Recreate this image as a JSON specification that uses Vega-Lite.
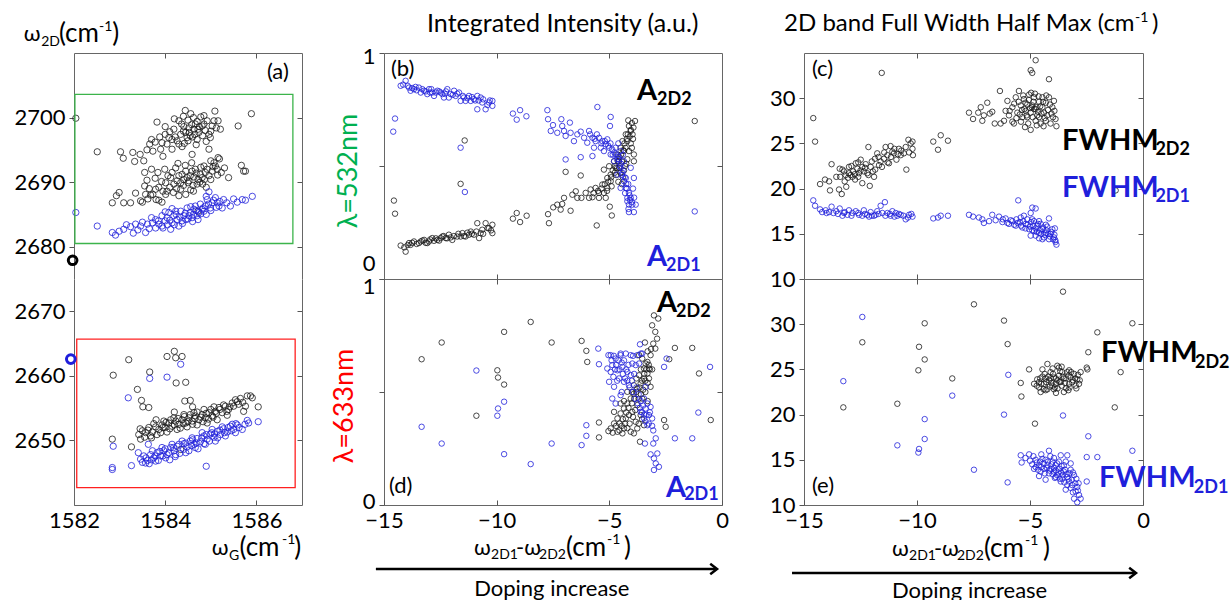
{
"$schema":"https://vega.github.io/schema/vega-lite/v6.json",
"background":"white",
"padding":{"left":13,"top":10,"right":0,"bottom":0},
"config":{"font":"Lato","view":{"stroke":"#666","strokeWidth":1},
"axis":{"grid":false,"title":null,"labelFont":"Lato","labelFontSize":22,"labelColor":"#000","tickColor":"#555","domainColor":"#666","tickSize":5,"labelPadding":4,"domain":false,"labelFlush":false}},
"columns":3,"spacing":{"row":0,"column":82},"bounds":"flush","align":"each",
"concat":[
{"width":228,"height":226,"view":{"stroke":null},
"resolve":{"axis":{"x":"independent","y":"independent"}},
"layer":[
{"data":{"values":[{"x":1582.04,"y":2699.9},{"x":1582.51,"y":2694.7},{"x":1583.02,"y":2694.7},{"x":1583.08,"y":2693.7},{"x":1583.29,"y":2694.6},{"x":1583.33,"y":2693.2},{"x":1583.53,"y":2693.3},{"x":1583.66,"y":2695.9},{"x":1583.73,"y":2694.8},{"x":1583.82,"y":2699.3},{"x":1583.9,"y":2695.1},{"x":1583.95,"y":2694.0},{"x":1584.0,"y":2697.4},{"x":1584.08,"y":2696.9},{"x":1584.15,"y":2695.1},{"x":1584.19,"y":2698.2},{"x":1584.26,"y":2696.4},{"x":1584.36,"y":2699.0},{"x":1584.37,"y":2695.5},{"x":1584.45,"y":2697.7},{"x":1584.52,"y":2698.4},{"x":1584.55,"y":2697.2},{"x":1584.59,"y":2694.3},{"x":1584.63,"y":2698.2},{"x":1584.66,"y":2699.0},{"x":1584.7,"y":2696.6},{"x":1584.74,"y":2697.7},{"x":1584.81,"y":2698.7},{"x":1584.85,"y":2700.3},{"x":1584.92,"y":2699.5},{"x":1584.96,"y":2697.4},{"x":1584.99,"y":2696.9},{"x":1585.09,"y":2701.0},{"x":1585.07,"y":2699.5},{"x":1585.16,"y":2699.5},{"x":1585.21,"y":2698.2},{"x":1584.96,"y":2695.1},{"x":1585.16,"y":2693.8},{"x":1585.6,"y":2698.7},{"x":1585.89,"y":2700.6},{"x":1584.41,"y":2698.6},{"x":1584.53,"y":2697.7},{"x":1584.65,"y":2697.4},{"x":1584.75,"y":2698.6},{"x":1584.48,"y":2696.9},{"x":1584.34,"y":2697.4},{"x":1584.15,"y":2696.6},{"x":1584.04,"y":2695.9},{"x":1583.93,"y":2696.1},{"x":1584.82,"y":2697.2},{"x":1585.03,"y":2698.7},
{"x":1584.3,"y":2699.5},{"x":1584.4,"y":2700.2},{"x":1584.5,"y":2699.6},{"x":1584.58,"y":2698.9},{"x":1584.62,"y":2700.0},{"x":1584.7,"y":2699.4},{"x":1584.78,"y":2700.1},{"x":1584.88,"y":2698.0},{"x":1584.6,"y":2697.0},{"x":1584.5,"y":2696.4},{"x":1584.42,"y":2696.0},{"x":1584.3,"y":2695.9},{"x":1584.22,"y":2697.0},{"x":1584.1,"y":2697.8},{"x":1584.0,"y":2698.6},{"x":1583.88,"y":2697.0},{"x":1583.78,"y":2696.2},{"x":1584.68,"y":2695.8},{"x":1584.9,"y":2696.3},{"x":1585.0,"y":2697.9},{"x":1585.12,"y":2698.4},{"x":1584.56,"y":2700.6},{"x":1584.44,"y":2701.1},{"x":1584.2,"y":2699.8},{"x":1583.7,"y":2696.6},{"x":1583.6,"y":2695.0},{"x":1583.45,"y":2694.3},{"x":1584.85,"y":2699.0},{"x":1584.72,"y":2698.2},{"x":1584.4,"y":2697.9},
{"x":1582.84,"y":2686.8},{"x":1582.93,"y":2687.9},{"x":1582.99,"y":2688.4},{"x":1583.09,"y":2686.8},{"x":1583.24,"y":2686.8},{"x":1583.35,"y":2688.3},{"x":1583.46,"y":2687.1},{"x":1583.55,"y":2691.5},{"x":1583.55,"y":2689.4},{"x":1583.7,"y":2692.0},{"x":1583.73,"y":2688.1},{"x":1583.79,"y":2688.9},{"x":1583.86,"y":2687.2},{"x":1583.93,"y":2686.9},{"x":1583.99,"y":2692.0},{"x":1584.01,"y":2689.9},{"x":1584.04,"y":2688.6},{"x":1584.12,"y":2690.7},{"x":1584.19,"y":2689.7},{"x":1584.23,"y":2692.2},{"x":1584.3,"y":2691.0},{"x":1584.34,"y":2688.9},{"x":1584.41,"y":2690.4},{"x":1584.45,"y":2691.7},{"x":1584.5,"y":2689.9},{"x":1584.55,"y":2691.0},{"x":1584.61,"y":2689.5},{"x":1584.66,"y":2692.0},{"x":1584.72,"y":2690.4},{"x":1584.77,"y":2691.2},{"x":1584.82,"y":2689.7},{"x":1584.88,"y":2691.5},{"x":1584.96,"y":2691.0},{"x":1585.03,"y":2691.7},{"x":1585.1,"y":2692.5},{"x":1585.19,"y":2693.6},{"x":1585.23,"y":2691.5},{"x":1585.39,"y":2690.7},{"x":1585.67,"y":2692.6},{"x":1585.72,"y":2691.7},{"x":1585.76,"y":2691.7},{"x":1584.72,"y":2685.5},{"x":1584.15,"y":2691.5},{"x":1584.26,"y":2690.2},{"x":1584.37,"y":2691.2},{"x":1584.48,"y":2690.7},{"x":1584.59,"y":2691.7},{"x":1584.7,"y":2689.7},{"x":1584.81,"y":2690.7},{"x":1584.92,"y":2692.0},{"x":1584.34,"y":2689.9},{"x":1584.45,"y":2688.1},{"x":1584.01,"y":2688.1},{"x":1583.86,"y":2689.2},{"x":1583.68,"y":2688.0},{"x":1583.8,"y":2687.3},{"x":1583.57,"y":2688.1},{"x":1584.85,"y":2692.5},{"x":1585.07,"y":2693.0},{"x":1585.14,"y":2692.0},
{"x":1583.6,"y":2690.3},{"x":1583.65,"y":2689.0},{"x":1583.78,"y":2690.6},{"x":1583.84,"y":2691.5},{"x":1583.92,"y":2690.1},{"x":1584.06,"y":2691.0},{"x":1584.1,"y":2689.2},{"x":1584.18,"y":2688.4},{"x":1584.25,"y":2689.0},{"x":1584.28,"y":2692.9},{"x":1584.4,"y":2689.5},{"x":1584.52,"y":2690.2},{"x":1584.56,"y":2688.8},{"x":1584.63,"y":2690.8},{"x":1584.68,"y":2691.4},{"x":1584.76,"y":2690.0},{"x":1584.78,"y":2692.3},{"x":1584.86,"y":2690.4},{"x":1584.9,"y":2689.2},{"x":1585.0,"y":2690.4},{"x":1585.05,"y":2692.4},{"x":1585.15,"y":2691.1},{"x":1585.3,"y":2692.2},{"x":1583.5,"y":2686.9},{"x":1583.62,"y":2687.4},{"x":1583.95,"y":2688.6},{"x":1584.3,"y":2687.9},{"x":1584.62,"y":2688.6},{"x":1584.44,"y":2692.6},{"x":1584.58,"y":2693.0},{"x":1585.0,"y":2693.3}]},
"mark":{"type":"point","shape":"circle","filled":false,"stroke":"#1a1a1a","strokeWidth":0.8,"size":40,"opacity":1},
"encoding":{"x":{"field":"x","type":"quantitative","scale":{"domain":[1582,1587],"nice":false,"zero":false},"axis":{"orient":"top","values":[1584,1586],"labels":false,"tickSize":-5,"domain":true}},
"y":{"field":"y","type":"quantitative","scale":{"domain":[2675,2710],"nice":false,"zero":false},"axis":{"orient":"left","values":[2680,2690,2700],"format":"d","domain":true}}}},
{"data":{"values":[{"x":1582.04,"y":2685.3},{"x":1582.51,"y":2683.2},{"x":1582.84,"y":2682.2},{"x":1582.91,"y":2681.8},{"x":1582.99,"y":2682.4},{"x":1583.09,"y":2682.7},{"x":1583.24,"y":2683.1},{"x":1583.35,"y":2683.5},{"x":1583.46,"y":2683.2},{"x":1583.57,"y":2682.2},{"x":1583.61,"y":2683.5},{"x":1583.72,"y":2683.7},{"x":1583.79,"y":2684.2},{"x":1583.86,"y":2683.5},{"x":1583.93,"y":2684.8},{"x":1584.0,"y":2684.0},{"x":1584.08,"y":2685.3},{"x":1584.12,"y":2682.7},{"x":1584.19,"y":2684.8},{"x":1584.26,"y":2684.2},{"x":1584.34,"y":2685.5},{"x":1584.41,"y":2684.8},{"x":1584.48,"y":2686.0},{"x":1584.55,"y":2685.3},{"x":1584.63,"y":2685.8},{"x":1584.7,"y":2684.8},{"x":1584.77,"y":2686.6},{"x":1584.85,"y":2685.5},{"x":1584.92,"y":2687.3},{"x":1584.96,"y":2688.5},{"x":1585.03,"y":2686.8},{"x":1585.1,"y":2687.6},{"x":1585.18,"y":2686.3},{"x":1585.28,"y":2687.3},{"x":1585.43,"y":2686.3},{"x":1585.58,"y":2686.9},{"x":1585.69,"y":2687.3},{"x":1585.76,"y":2687.2},{"x":1585.91,"y":2687.8},{"x":1584.15,"y":2683.7},{"x":1584.3,"y":2683.2},{"x":1584.45,"y":2684.2},{"x":1584.59,"y":2684.5},{"x":1584.74,"y":2685.3},{"x":1584.88,"y":2686.3},{"x":1583.79,"y":2682.9},{"x":1583.93,"y":2683.2},{"x":1584.04,"y":2684.5},{"x":1584.23,"y":2685.5},{"x":1584.37,"y":2684.0},{"x":1584.52,"y":2684.8},{"x":1584.66,"y":2686.3},{"x":1584.81,"y":2685.8},{"x":1584.99,"y":2686.0},{"x":1585.14,"y":2686.8},
{"x":1583.5,"y":2683.8},{"x":1583.65,"y":2682.8},{"x":1583.7,"y":2684.5},{"x":1583.85,"y":2684.0},{"x":1583.95,"y":2682.9},{"x":1584.05,"y":2683.4},{"x":1584.1,"y":2684.1},{"x":1584.2,"y":2683.4},{"x":1584.24,"y":2685.0},{"x":1584.32,"y":2684.6},{"x":1584.38,"y":2683.6},{"x":1584.44,"y":2685.2},{"x":1584.5,"y":2684.3},{"x":1584.56,"y":2686.2},{"x":1584.62,"y":2685.0},{"x":1584.68,"y":2685.6},{"x":1584.72,"y":2684.2},{"x":1584.78,"y":2685.1},{"x":1584.83,"y":2686.0},{"x":1584.9,"y":2685.0},{"x":1584.95,"y":2686.6},{"x":1585.0,"y":2685.6},{"x":1585.06,"y":2687.2},{"x":1585.12,"y":2686.1},{"x":1585.2,"y":2687.0},{"x":1585.25,"y":2686.0},{"x":1585.35,"y":2686.8},{"x":1585.5,"y":2687.4},{"x":1583.4,"y":2682.6},{"x":1583.3,"y":2682.1},{"x":1583.15,"y":2683.4},{"x":1584.15,"y":2685.9},{"x":1584.0,"y":2685.4},{"x":1584.6,"y":2683.9},{"x":1584.9,"y":2687.8}]},
"mark":{"type":"point","shape":"circle","filled":false,"stroke":"#1f1fdb","strokeWidth":0.8,"size":40,"opacity":1},
"encoding":{"x":{"field":"x","type":"quantitative","scale":{"domain":[1582,1587],"nice":false,"zero":false},"axis":null},
"y":{"field":"y","type":"quantitative","scale":{"domain":[2675,2710],"nice":false,"zero":false},"axis":{"orient":"right","values":[2680,2690,2700],"labels":false,"tickSize":-5,"domain":true}}}},
{"data":{"values":[{"x":1582.02,"x2":1586.8,"y":2680.5,"y2":2703.6}]},
"mark":{"type":"rect","filled":false,"color":"#3cb44b","strokeWidth":1.3},
"encoding":{"x":{"field":"x","type":"quantitative","scale":{"domain":[1582,1587],"nice":false,"zero":false},"axis":null},"x2":{"field":"x2"},
"y":{"field":"y","type":"quantitative","scale":{"domain":[2675,2710],"nice":false,"zero":false},"axis":null},"y2":{"field":"y2"}}},
{"data":{"values":[{"x":1581.97,"y":2677.9}]},
"mark":{"type":"point","shape":"circle","filled":false,"stroke":"#000000","strokeWidth":3,"size":75,"opacity":1},
"encoding":{"x":{"field":"x","type":"quantitative","scale":{"domain":[1582,1587],"nice":false,"zero":false},"axis":null},
"y":{"field":"y","type":"quantitative","scale":{"domain":[2675,2710],"nice":false,"zero":false},"axis":null}}},
{"data":{"values":[{"x":1586.23,"y":2707.06,"t":"(a)","r":"l","c":"k"},{"x":1580.9,"y":2712.94,"t":"ω","r":"w","c":"k"},{"x":1581.28,"y":2711.7,"t":"2D","r":"s","c":"k"},{"x":1581.67,"y":2712.94,"t":"(cm","r":"m","c":"k"},{"x":1582.55,"y":2714.03,"t":"-1","r":"s","c":"k"},{"x":1582.84,"y":2712.94,"t":")","r":"m","c":"k"}]},
"mark":{"type":"text","align":"left","baseline":"middle"},
"encoding":{"x":{"field":"x","type":"quantitative","scale":{"domain":[1582,1587],"nice":false,"zero":false},"axis":null},
"y":{"field":"y","type":"quantitative","scale":{"domain":[2675,2710],"nice":false,"zero":false},"axis":null},
"text":{"field":"t"},
"size":{"field":"r","type":"nominal","scale":{"type":"ordinal","domain":["m","w","s","l","t","T","U","B","b"],"range":[26,22,14,22,22,25,24,29,18]},"legend":null},
"color":{"field":"c","type":"nominal","scale":{"domain":["k","b","g","r"],"range":["#000000","#1f1fdb","#00b050","#ff0000"]},"legend":null}}}
]},
{"width":338,"height":226,
"resolve":{"axis":{"x":"independent","y":"independent"}},
"layer":[
{"data":{"values":[{"x":-14.56,"y":0.347},{"x":-14.51,"y":0.289},{"x":-11.42,"y":0.613},{"x":-11.6,"y":0.421},{"x":-14.26,"y":0.148},{"x":-14.04,"y":0.121},{"x":-13.89,"y":0.159},{"x":-13.67,"y":0.166},{"x":-13.45,"y":0.159},{"x":-13.22,"y":0.173},{"x":-13.0,"y":0.166},{"x":-12.86,"y":0.181},{"x":-12.63,"y":0.173},{"x":-12.41,"y":0.188},{"x":-12.26,"y":0.181},{"x":-12.12,"y":0.196},{"x":-11.97,"y":0.173},{"x":-11.75,"y":0.188},{"x":-11.52,"y":0.203},{"x":-11.38,"y":0.188},{"x":-11.15,"y":0.21},{"x":-11.01,"y":0.196},{"x":-10.86,"y":0.247},{"x":-10.78,"y":0.181},{"x":-10.64,"y":0.218},{"x":-10.49,"y":0.247},{"x":-10.34,"y":0.225},{"x":-10.19,"y":0.24},{"x":-10.19,"y":0.203},{"x":-13.82,"y":0.151},{"x":-13.37,"y":0.166},{"x":-13.08,"y":0.159},{"x":-12.78,"y":0.169},{"x":-12.49,"y":0.181},{"x":-12.04,"y":0.184},{"x":-11.6,"y":0.188},{"x":-11.23,"y":0.196},{"x":-10.71,"y":0.203},
{"x":-14.1,"y":0.14},{"x":-13.95,"y":0.15},{"x":-13.75,"y":0.16},{"x":-13.55,"y":0.155},{"x":-13.3,"y":0.17},{"x":-13.15,"y":0.16},{"x":-12.95,"y":0.175},{"x":-12.7,"y":0.18},{"x":-12.55,"y":0.17},{"x":-12.35,"y":0.19},{"x":-12.2,"y":0.18},{"x":-11.9,"y":0.19},{"x":-11.7,"y":0.2},{"x":-11.45,"y":0.19},{"x":-11.3,"y":0.205},{"x":-11.1,"y":0.2},{"x":-10.9,"y":0.21},{"x":-10.6,"y":0.2},{"x":-10.4,"y":0.225},{"x":-10.25,"y":0.215},
{"x":-9.28,"y":0.267},{"x":-9.11,"y":0.292},{"x":-8.96,"y":0.252},{"x":-8.67,"y":0.28},{"x":-7.68,"y":0.247},{"x":-7.72,"y":0.287},{"x":-7.49,"y":0.317},{"x":-7.09,"y":0.332},{"x":-7.01,"y":0.359},{"x":-6.94,"y":0.474},{"x":-6.72,"y":0.302},{"x":-6.64,"y":0.373},{"x":-6.49,"y":0.388},{"x":-6.27,"y":0.458},{"x":-6.24,"y":0.359},{"x":-6.05,"y":0.381},{"x":-5.9,"y":0.359},{"x":-5.83,"y":0.396},{"x":-5.56,"y":0.237},{"x":-5.61,"y":0.403},{"x":-5.46,"y":0.381},{"x":-5.31,"y":0.418},{"x":-5.24,"y":0.484},{"x":-5.09,"y":0.447},{"x":-5.01,"y":0.499},{"x":-4.98,"y":0.32},{"x":-4.89,"y":0.281},{"x":-4.94,"y":0.433},{"x":-4.79,"y":0.521},{"x":-4.76,"y":0.47},{"x":-4.64,"y":0.551},{"x":-4.57,"y":0.492},{"x":-4.5,"y":0.581},{"x":-4.42,"y":0.61},{"x":-4.35,"y":0.566},{"x":-4.27,"y":0.64},{"x":-4.2,"y":0.61},{"x":-4.13,"y":0.677},{"x":-4.05,"y":0.655},{"x":-4.16,"y":0.702},{"x":-3.86,"y":0.699},{"x":-3.93,"y":0.67},{"x":-4.13,"y":0.566},{"x":-3.91,"y":0.551},{"x":-3.91,"y":0.521},{"x":-5.24,"y":0.381},{"x":-5.46,"y":0.359},{"x":-5.09,"y":0.403},{"x":-4.94,"y":0.462},{"x":-4.72,"y":0.492},{"x":-4.57,"y":0.521},{"x":-5.16,"y":0.359},{"x":-5.75,"y":0.362},{"x":-7.31,"y":0.329},{"x":-7.16,"y":0.307},{"x":-6.42,"y":0.359},{"x":-1.21,"y":0.699},{"x":-4.4,"y":0.45},{"x":-4.3,"y":0.5},{"x":-4.2,"y":0.53},{"x":-4.45,"y":0.42},{"x":-4.6,"y":0.43},{"x":-4.0,"y":0.58},{"x":-4.05,"y":0.6},{"x":-3.95,"y":0.62},
{"x":-5.7,"y":0.38},{"x":-5.5,"y":0.39},{"x":-5.35,"y":0.4},{"x":-5.2,"y":0.42},{"x":-5.05,"y":0.43},{"x":-4.92,"y":0.45},{"x":-4.85,"y":0.48},{"x":-4.75,"y":0.5},{"x":-4.66,"y":0.49},{"x":-4.62,"y":0.52},{"x":-4.55,"y":0.54},{"x":-4.48,"y":0.55},{"x":-4.44,"y":0.52},{"x":-4.38,"y":0.57},{"x":-4.33,"y":0.6},{"x":-4.28,"y":0.58},{"x":-4.22,"y":0.62},{"x":-4.18,"y":0.64},{"x":-4.1,"y":0.63},{"x":-4.05,"y":0.66},{"x":-4.0,"y":0.69},{"x":-3.97,"y":0.64},{"x":-4.7,"y":0.46},{"x":-4.9,"y":0.41},{"x":-5.1,"y":0.39},{"x":-4.5,"y":0.47},{"x":-4.35,"y":0.48},{"x":-4.25,"y":0.51}]},
"mark":{"type":"point","shape":"circle","filled":false,"stroke":"#1a1a1a","strokeWidth":0.8,"size":30,"opacity":1},
"encoding":{"x":{"field":"x","type":"quantitative","scale":{"domain":[-15,0],"nice":false,"zero":false},"axis":{"orient":"bottom","values":[-10,-5],"labels":false,"tickSize":-5}},
"y":{"field":"y","type":"quantitative","scale":{"domain":[0,1],"nice":false,"zero":false},"axis":{"orient":"left","values":[0,0.5,1],"labelExpr":"datum.value==0.5?'':format(datum.value,'d')","labelOffset":{"condition":{"test":"datum.value==0","value":-16},"value":3}}}}},
{"data":{"values":[{"x":-14.51,"y":0.71},{"x":-14.59,"y":0.652},{"x":-11.6,"y":0.581},{"x":-11.41,"y":0.385},{"x":-14.26,"y":0.855},{"x":-14.04,"y":0.877},{"x":-13.89,"y":0.847},{"x":-13.67,"y":0.84},{"x":-13.45,"y":0.847},{"x":-13.22,"y":0.833},{"x":-13.0,"y":0.84},{"x":-12.86,"y":0.825},{"x":-12.63,"y":0.833},{"x":-12.41,"y":0.818},{"x":-12.19,"y":0.84},{"x":-12.04,"y":0.818},{"x":-11.82,"y":0.81},{"x":-11.67,"y":0.825},{"x":-11.45,"y":0.803},{"x":-11.23,"y":0.81},{"x":-11.01,"y":0.796},{"x":-10.86,"y":0.81},{"x":-10.86,"y":0.751},{"x":-10.64,"y":0.781},{"x":-10.49,"y":0.751},{"x":-10.34,"y":0.781},{"x":-10.19,"y":0.788},{"x":-10.19,"y":0.766},{"x":-13.82,"y":0.833},{"x":-13.37,"y":0.825},{"x":-13.08,"y":0.818},{"x":-12.78,"y":0.81},{"x":-12.49,"y":0.825},{"x":-12.34,"y":0.803},{"x":-12.12,"y":0.803},{"x":-11.89,"y":0.833},{"x":-11.6,"y":0.788},{"x":-11.38,"y":0.788},{"x":-11.15,"y":0.788},{"x":-10.71,"y":0.803},{"x":-10.41,"y":0.77},
{"x":-14.15,"y":0.86},{"x":-13.95,"y":0.855},{"x":-13.75,"y":0.845},{"x":-13.6,"y":0.85},{"x":-13.55,"y":0.835},{"x":-13.3,"y":0.84},{"x":-13.15,"y":0.83},{"x":-12.95,"y":0.825},{"x":-12.9,"y":0.84},{"x":-12.7,"y":0.825},{"x":-12.55,"y":0.83},{"x":-12.3,"y":0.82},{"x":-12.25,"y":0.83},{"x":-11.95,"y":0.815},{"x":-11.75,"y":0.82},{"x":-11.5,"y":0.81},{"x":-11.3,"y":0.8},{"x":-11.1,"y":0.805},{"x":-10.95,"y":0.79},{"x":-10.8,"y":0.79},{"x":-10.6,"y":0.795},{"x":-10.3,"y":0.79},
{"x":-9.28,"y":0.732},{"x":-9.11,"y":0.705},{"x":-8.96,"y":0.747},{"x":-8.68,"y":0.72},{"x":-7.75,"y":0.747},{"x":-7.72,"y":0.707},{"x":-7.5,"y":0.681},{"x":-7.13,"y":0.707},{"x":-7.09,"y":0.677},{"x":-6.75,"y":0.692},{"x":-7.01,"y":0.655},{"x":-6.94,"y":0.633},{"x":-6.57,"y":0.61},{"x":-6.42,"y":0.64},{"x":-6.27,"y":0.652},{"x":-6.12,"y":0.625},{"x":-5.9,"y":0.655},{"x":-5.75,"y":0.625},{"x":-5.61,"y":0.61},{"x":-5.53,"y":0.761},{"x":-5.46,"y":0.625},{"x":-5.31,"y":0.61},{"x":-5.16,"y":0.596},{"x":-5.09,"y":0.618},{"x":-4.97,"y":0.677},{"x":-4.94,"y":0.717},{"x":-5.01,"y":0.581},{"x":-4.87,"y":0.573},{"x":-4.72,"y":0.551},{"x":-4.57,"y":0.529},{"x":-4.5,"y":0.492},{"x":-4.42,"y":0.47},{"x":-4.35,"y":0.433},{"x":-4.27,"y":0.403},{"x":-4.13,"y":0.381},{"x":-4.05,"y":0.359},{"x":-4.2,"y":0.344},{"x":-4.13,"y":0.329},{"x":-3.98,"y":0.329},{"x":-3.83,"y":0.329},{"x":-4.13,"y":0.296},{"x":-3.91,"y":0.296},{"x":-6.94,"y":0.529},{"x":-6.27,"y":0.539},{"x":-5.75,"y":0.544},{"x":-5.68,"y":0.581},{"x":-5.24,"y":0.566},{"x":-4.79,"y":0.521},{"x":-4.64,"y":0.462},{"x":-4.5,"y":0.403},{"x":-4.27,"y":0.447},{"x":-3.91,"y":0.447},{"x":-4.05,"y":0.492},{"x":-4.35,"y":0.521},{"x":-4.5,"y":0.566},{"x":-4.72,"y":0.581},{"x":-4.2,"y":0.359},{"x":-7.6,"y":0.655},{"x":-7.31,"y":0.647},{"x":-6.72,"y":0.647},{"x":-5.98,"y":0.603},{"x":-5.38,"y":0.581},{"x":-4.94,"y":0.551},{"x":-1.21,"y":0.299},
{"x":-5.85,"y":0.64},{"x":-5.65,"y":0.62},{"x":-5.55,"y":0.64},{"x":-5.35,"y":0.6},{"x":-5.2,"y":0.61},{"x":-5.05,"y":0.59},{"x":-4.95,"y":0.6},{"x":-4.85,"y":0.55},{"x":-4.78,"y":0.56},{"x":-4.66,"y":0.53},{"x":-4.6,"y":0.54},{"x":-4.55,"y":0.5},{"x":-4.48,"y":0.51},{"x":-4.44,"y":0.46},{"x":-4.38,"y":0.48},{"x":-4.32,"y":0.45},{"x":-4.25,"y":0.42},{"x":-4.22,"y":0.4},{"x":-4.16,"y":0.42},{"x":-4.1,"y":0.37},{"x":-4.08,"y":0.35},{"x":-4.0,"y":0.34},{"x":-3.9,"y":0.36},{"x":-3.95,"y":0.4},{"x":-4.4,"y":0.55},{"x":-4.6,"y":0.6},{"x":-4.3,"y":0.38},{"x":-4.15,"y":0.31}]},
"mark":{"type":"point","shape":"circle","filled":false,"stroke":"#1f1fdb","strokeWidth":0.8,"size":30,"opacity":1},
"encoding":{"x":{"field":"x","type":"quantitative","scale":{"domain":[-15,0],"nice":false,"zero":false},"axis":{"orient":"top","values":[-10,-5],"labels":false,"tickSize":-5}},
"y":{"field":"y","type":"quantitative","scale":{"domain":[0,1],"nice":false,"zero":false},"axis":{"orient":"right","values":[0.5],"labels":false,"tickSize":-5}}}},
{"data":{"values":[{"x":-14.69,"y":0.929,"t":"(b)","r":"l","c":"k"},{"x":-13.09,"y":1.128,"t":"Integrated Intensity (a.u.)","r":"T","c":"k"}]},
"mark":{"type":"text","align":"left","baseline":"middle"},
"encoding":{"x":{"field":"x","type":"quantitative","scale":{"domain":[-15,0],"nice":false,"zero":false},"axis":null},
"y":{"field":"y","type":"quantitative","scale":{"domain":[0,1],"nice":false,"zero":false},"axis":null},
"text":{"field":"t"},
"size":{"field":"r","type":"nominal","scale":{"type":"ordinal","domain":["m","w","s","l","t","T","U","B","b"],"range":[26,22,14,22,22,25,24,29,18]},"legend":null},
"color":{"field":"c","type":"nominal","scale":{"domain":["k","b","g","r"],"range":["#000000","#1f1fdb","#00b050","#ff0000"]},"legend":null}}},
{"data":{"values":[{"x":-3.77,"y":0.832,"t":"A","r":"B","c":"k"},{"x":-2.88,"y":0.792,"t":"2D2","r":"b","c":"k"},{"x":-3.33,"y":0.097,"t":"A","r":"B","c":"b"},{"x":-2.48,"y":0.058,"t":"2D1","r":"b","c":"b"}]},
"mark":{"type":"text","align":"left","baseline":"middle","fontWeight":"bold"},
"encoding":{"x":{"field":"x","type":"quantitative","scale":{"domain":[-15,0],"nice":false,"zero":false},"axis":null},
"y":{"field":"y","type":"quantitative","scale":{"domain":[0,1],"nice":false,"zero":false},"axis":null},
"text":{"field":"t"},
"size":{"field":"r","type":"nominal","scale":{"type":"ordinal","domain":["m","w","s","l","t","T","U","B","b"],"range":[26,22,14,22,22,25,24,29,18]},"legend":null},
"color":{"field":"c","type":"nominal","scale":{"domain":["k","b","g","r"],"range":["#000000","#1f1fdb","#00b050","#ff0000"]},"legend":null}}},
{"data":{"values":[{"x":-16.55,"y":0.478,"t":"λ=532nm","c":"g"}]},
"mark":{"type":"text","align":"center","baseline":"middle","angle":270,"fontSize":27},
"encoding":{"x":{"field":"x","type":"quantitative","scale":{"domain":[-15,0],"nice":false,"zero":false},"axis":null},
"y":{"field":"y","type":"quantitative","scale":{"domain":[0,1],"nice":false,"zero":false},"axis":null},
"text":{"field":"t"},
"color":{"field":"c","type":"nominal","scale":{"domain":["k","b","g","r"],"range":["#000000","#1f1fdb","#00b050","#ff0000"]},"legend":null}}}
]},
{"width":339,"height":226,
"resolve":{"axis":{"x":"independent","y":"independent"}},
"layer":[
{"data":{"values":[{"x":-14.59,"y":27.8},{"x":-14.51,"y":25.2},{"x":-14.29,"y":20.5},{"x":-14.07,"y":21.0},{"x":-13.89,"y":20.8},{"x":-13.85,"y":19.8},{"x":-13.78,"y":22.7},{"x":-13.57,"y":21.3},{"x":-13.45,"y":19.9},{"x":-13.33,"y":19.4},{"x":-13.42,"y":22.2},{"x":-13.23,"y":21.9},{"x":-13.13,"y":20.2},{"x":-13.01,"y":22.4},{"x":-12.94,"y":21.5},{"x":-12.83,"y":21.9},{"x":-12.74,"y":21.0},{"x":-12.64,"y":22.2},{"x":-12.57,"y":21.7},{"x":-12.49,"y":23.2},{"x":-12.42,"y":20.6},{"x":-12.35,"y":21.9},{"x":-12.27,"y":22.7},{"x":-12.15,"y":24.6},{"x":-12.09,"y":20.3},{"x":-12.05,"y":22.4},{"x":-11.95,"y":21.9},{"x":-11.86,"y":23.3},{"x":-11.76,"y":23.9},{"x":-11.68,"y":22.6},{"x":-11.56,"y":32.8},{"x":-11.46,"y":23.3},{"x":-11.39,"y":24.6},{"x":-11.31,"y":23.7},{"x":-11.24,"y":22.8},{"x":-11.17,"y":24.7},{"x":-11.02,"y":23.9},{"x":-10.91,"y":23.2},{"x":-10.8,"y":24.4},{"x":-10.72,"y":23.7},{"x":-10.58,"y":23.9},{"x":-10.47,"y":22.1},{"x":-10.38,"y":25.4},{"x":-10.28,"y":25.0},{"x":-10.2,"y":24.4},{"x":-10.18,"y":23.7},{"x":-10.2,"y":25.2},{"x":-13.01,"y":21.7},{"x":-12.71,"y":22.8},{"x":-12.42,"y":22.4},{"x":-12.2,"y":21.7},{"x":-11.9,"y":21.3},{"x":-13.16,"y":21.5},{"x":-13.3,"y":22.1},{"x":-12.86,"y":21.3},{"x":-11.61,"y":23.0},{"x":-11.09,"y":24.1},
{"x":-13.4,"y":21.3},{"x":-13.2,"y":20.8},{"x":-13.05,"y":21.2},{"x":-12.9,"y":22.5},{"x":-12.75,"y":21.6},{"x":-12.6,"y":21.3},{"x":-12.5,"y":22.0},{"x":-12.3,"y":22.3},{"x":-12.15,"y":21.5},{"x":-12.0,"y":23.0},{"x":-11.85,"y":22.1},{"x":-11.7,"y":23.5},{"x":-11.55,"y":22.4},{"x":-11.45,"y":24.0},{"x":-11.3,"y":22.9},{"x":-11.15,"y":23.5},{"x":-11.0,"y":24.4},{"x":-10.85,"y":23.8},{"x":-10.7,"y":24.2},{"x":-10.5,"y":24.6},{"x":-10.35,"y":24.0},{"x":-12.6,"y":22.9},
{"x":-9.28,"y":25.2},{"x":-9.07,"y":24.3},{"x":-8.95,"y":25.9},{"x":-8.63,"y":25.3},{"x":-7.7,"y":28.4},{"x":-7.52,"y":27.7},{"x":-7.29,"y":28.4},{"x":-7.18,"y":29.0},{"x":-7.11,"y":27.5},{"x":-7.04,"y":28.1},{"x":-6.89,"y":29.5},{"x":-6.78,"y":28.3},{"x":-6.67,"y":28.5},{"x":-6.56,"y":27.2},{"x":-6.33,"y":30.8},{"x":-6.3,"y":27.2},{"x":-6.15,"y":27.5},{"x":-6.08,"y":28.6},{"x":-6.0,"y":29.7},{"x":-5.93,"y":28.1},{"x":-5.78,"y":29.0},{"x":-5.71,"y":27.2},{"x":-5.63,"y":30.1},{"x":-5.56,"y":28.4},{"x":-5.49,"y":30.8},{"x":-5.41,"y":29.2},{"x":-5.34,"y":27.9},{"x":-5.27,"y":29.9},{"x":-5.19,"y":28.6},{"x":-5.12,"y":29.3},{"x":-5.04,"y":30.4},{"x":-4.97,"y":33.1},{"x":-4.9,"y":32.8},{"x":-4.75,"y":34.2},{"x":-4.97,"y":26.5},{"x":-4.97,"y":28.4},{"x":-4.9,"y":29.2},{"x":-4.82,"y":30.1},{"x":-4.75,"y":28.8},{"x":-4.68,"y":28.1},{"x":-4.6,"y":29.6},{"x":-4.53,"y":27.2},{"x":-4.45,"y":29.0},{"x":-4.38,"y":28.4},{"x":-4.3,"y":29.5},{"x":-4.24,"y":28.1},{"x":-4.16,"y":32.1},{"x":-4.09,"y":27.2},{"x":-4.01,"y":29.0},{"x":-3.94,"y":29.7},{"x":-3.87,"y":27.7},{"x":-3.83,"y":26.9},{"x":-4.16,"y":30.1},{"x":-4.45,"y":30.1},{"x":-4.75,"y":27.5},{"x":-5.22,"y":26.8},{"x":-5.78,"y":27.4},{"x":-5.45,"y":28.2},{"x":-5.12,"y":27.9},{"x":-4.82,"y":28.8},{"x":-4.6,"y":27.9},{"x":-4.3,"y":27.5},{"x":-1.21,"y":19.8},
{"x":-5.9,"y":28.6},{"x":-5.7,"y":29.4},{"x":-5.6,"y":27.8},{"x":-5.5,"y":29.6},{"x":-5.35,"y":28.7},{"x":-5.3,"y":30.3},{"x":-5.2,"y":29.5},{"x":-5.15,"y":28.1},{"x":-5.05,"y":29.8},{"x":-5.0,"y":28.9},{"x":-4.95,"y":30.6},{"x":-4.88,"y":27.9},{"x":-4.85,"y":29.6},{"x":-4.78,"y":30.5},{"x":-4.72,"y":29.0},{"x":-4.65,"y":28.5},{"x":-4.62,"y":30.2},{"x":-4.55,"y":29.1},{"x":-4.5,"y":28.3},{"x":-4.42,"y":29.6},{"x":-4.35,"y":27.8},{"x":-4.28,"y":30.3},{"x":-4.2,"y":28.7},{"x":-4.12,"y":29.3},{"x":-4.05,"y":28.3},{"x":-3.98,"y":27.9},{"x":-3.92,"y":28.6},{"x":-5.4,"y":27.4},{"x":-5.08,"y":27.2},{"x":-4.7,"y":27.0},{"x":-4.4,"y":26.9},{"x":-4.92,"y":29.0},{"x":-5.25,"y":28.8}]},
"mark":{"type":"point","shape":"circle","filled":false,"stroke":"#1a1a1a","strokeWidth":0.8,"size":30,"opacity":1},
"encoding":{"x":{"field":"x","type":"quantitative","scale":{"domain":[-15,0],"nice":false,"zero":false},"axis":{"orient":"bottom","values":[-10,-5],"labels":false,"tickSize":-5}},
"y":{"field":"y","type":"quantitative","scale":{"domain":[10,35],"nice":false,"zero":false},"axis":{"orient":"left","values":[10,15,20,25,30]}}}},
{"data":{"values":[{"x":-14.59,"y":18.7},{"x":-14.51,"y":18.1},{"x":-14.29,"y":17.7},{"x":-14.04,"y":17.6},{"x":-13.89,"y":17.4},{"x":-13.78,"y":18.0},{"x":-13.57,"y":17.5},{"x":-13.42,"y":17.8},{"x":-13.23,"y":17.3},{"x":-13.01,"y":17.6},{"x":-12.86,"y":17.3},{"x":-12.71,"y":17.5},{"x":-12.57,"y":17.1},{"x":-12.35,"y":17.6},{"x":-12.2,"y":17.1},{"x":-12.05,"y":17.4},{"x":-11.9,"y":17.0},{"x":-11.76,"y":17.5},{"x":-11.61,"y":18.1},{"x":-11.42,"y":18.5},{"x":-11.53,"y":17.3},{"x":-11.31,"y":17.3},{"x":-11.17,"y":17.0},{"x":-10.94,"y":17.3},{"x":-10.72,"y":17.1},{"x":-10.5,"y":16.6},{"x":-10.35,"y":17.1},{"x":-10.2,"y":16.9},{"x":-13.3,"y":17.0},{"x":-13.08,"y":17.1},{"x":-12.42,"y":17.0},{"x":-12.12,"y":16.9},{"x":-11.83,"y":17.1},{"x":-11.09,"y":17.5},{"x":-10.87,"y":17.0},
{"x":-14.2,"y":17.4},{"x":-14.0,"y":17.3},{"x":-13.7,"y":17.3},{"x":-13.5,"y":17.2},{"x":-13.2,"y":17.4},{"x":-12.9,"y":17.0},{"x":-12.6,"y":17.3},{"x":-12.3,"y":17.2},{"x":-12.0,"y":17.0},{"x":-11.7,"y":17.2},{"x":-11.4,"y":17.0},{"x":-11.2,"y":17.2},{"x":-11.0,"y":16.9},{"x":-10.8,"y":17.2},{"x":-10.6,"y":17.0},{"x":-10.4,"y":16.8},{"x":-10.25,"y":17.2},
{"x":-9.28,"y":16.7},{"x":-9.07,"y":16.8},{"x":-8.95,"y":17.0},{"x":-8.63,"y":17.0},{"x":-7.7,"y":17.1},{"x":-7.52,"y":16.9},{"x":-7.11,"y":16.6},{"x":-7.04,"y":16.2},{"x":-6.81,"y":16.4},{"x":-6.67,"y":17.1},{"x":-6.52,"y":16.5},{"x":-6.37,"y":16.9},{"x":-6.22,"y":16.3},{"x":-6.08,"y":16.7},{"x":-5.93,"y":16.1},{"x":-5.78,"y":16.4},{"x":-5.63,"y":15.9},{"x":-5.52,"y":18.7},{"x":-5.45,"y":16.3},{"x":-5.34,"y":15.7},{"x":-5.19,"y":16.1},{"x":-5.04,"y":15.5},{"x":-4.97,"y":17.3},{"x":-4.9,"y":17.9},{"x":-4.75,"y":17.8},{"x":-4.97,"y":14.8},{"x":-4.82,"y":15.3},{"x":-4.68,"y":15.9},{"x":-4.6,"y":15.1},{"x":-4.45,"y":15.5},{"x":-4.38,"y":14.6},{"x":-4.3,"y":15.1},{"x":-4.16,"y":16.7},{"x":-4.16,"y":14.4},{"x":-4.09,"y":15.0},{"x":-4.01,"y":15.5},{"x":-3.94,"y":14.6},{"x":-3.87,"y":14.1},{"x":-3.83,"y":13.8},{"x":-3.9,"y":15.6},{"x":-5.12,"y":16.6},{"x":-5.27,"y":17.0},{"x":-5.41,"y":16.8},{"x":-4.82,"y":16.4},{"x":-4.53,"y":16.1},{"x":-4.24,"y":15.8},{"x":-4.75,"y":14.8},{"x":-4.45,"y":14.4},{"x":-7.26,"y":16.8},{"x":-4.6,"y":14.5},
{"x":-6.2,"y":16.6},{"x":-6.0,"y":16.2},{"x":-5.85,"y":16.5},{"x":-5.7,"y":16.0},{"x":-5.55,"y":16.2},{"x":-5.4,"y":15.9},{"x":-5.3,"y":16.4},{"x":-5.2,"y":15.6},{"x":-5.1,"y":16.0},{"x":-5.0,"y":15.8},{"x":-4.95,"y":16.3},{"x":-4.9,"y":15.4},{"x":-4.85,"y":15.9},{"x":-4.75,"y":15.6},{"x":-4.7,"y":15.2},{"x":-4.65,"y":16.1},{"x":-4.55,"y":15.4},{"x":-4.5,"y":15.0},{"x":-4.42,"y":15.7},{"x":-4.35,"y":14.9},{"x":-4.28,"y":15.4},{"x":-4.2,"y":15.0},{"x":-4.12,"y":14.7},{"x":-4.05,"y":15.2},{"x":-3.98,"y":14.4},{"x":-3.92,"y":14.9},{"x":-3.88,"y":14.3},{"x":-4.9,"y":16.6},{"x":-5.6,"y":16.6},{"x":-4.6,"y":16.4},{"x":-4.3,"y":16.0}]},
"mark":{"type":"point","shape":"circle","filled":false,"stroke":"#1f1fdb","strokeWidth":0.8,"size":30,"opacity":1},
"encoding":{"x":{"field":"x","type":"quantitative","scale":{"domain":[-15,0],"nice":false,"zero":false},"axis":{"orient":"top","values":[-10,-5],"labels":false,"tickSize":-5}},
"y":{"field":"y","type":"quantitative","scale":{"domain":[10,35],"nice":false,"zero":false},"axis":{"orient":"right","values":[15,20,25,30],"labels":false,"tickSize":-5}}}},
{"data":{"values":[{"x":-14.65,"y":33.23,"t":"(c)","r":"l","c":"k"},{"x":-15.88,"y":38.21,"t":"2D band Full Width Half Max (cm","r":"U","c":"k"},{"x":-0.35,"y":38.87,"t":"-1","r":"s","c":"k"},{"x":0.4,"y":38.21,"t":")","r":"U","c":"k"}]},
"mark":{"type":"text","align":"left","baseline":"middle"},
"encoding":{"x":{"field":"x","type":"quantitative","scale":{"domain":[-15,0],"nice":false,"zero":false},"axis":null},
"y":{"field":"y","type":"quantitative","scale":{"domain":[10,35],"nice":false,"zero":false},"axis":null},
"text":{"field":"t"},
"size":{"field":"r","type":"nominal","scale":{"type":"ordinal","domain":["m","w","s","l","t","T","U","B","b"],"range":[26,22,14,22,22,25,24,29,18]},"legend":null},
"color":{"field":"c","type":"nominal","scale":{"domain":["k","b","g","r"],"range":["#000000","#1f1fdb","#00b050","#ff0000"]},"legend":null}}},
{"data":{"values":[{"x":-3.58,"y":25.27,"t":"FWHM","r":"B","c":"k"},{"x":0.55,"y":24.27,"t":"2D2","r":"b","c":"k"},{"x":-3.58,"y":20.07,"t":"FWHM","r":"B","c":"b"},{"x":0.55,"y":19.07,"t":"2D1","r":"b","c":"b"}]},
"mark":{"type":"text","align":"left","baseline":"middle","fontWeight":"bold"},
"encoding":{"x":{"field":"x","type":"quantitative","scale":{"domain":[-15,0],"nice":false,"zero":false},"axis":null},
"y":{"field":"y","type":"quantitative","scale":{"domain":[10,35],"nice":false,"zero":false},"axis":null},
"text":{"field":"t"},
"size":{"field":"r","type":"nominal","scale":{"type":"ordinal","domain":["m","w","s","l","t","T","U","B","b"],"range":[26,22,14,22,22,25,24,29,18]},"legend":null},
"color":{"field":"c","type":"nominal","scale":{"domain":["k","b","g","r"],"range":["#000000","#1f1fdb","#00b050","#ff0000"]},"legend":null}}}
]},
{"width":228,"height":226,"view":{"stroke":null},
"resolve":{"axis":{"x":"independent","y":"independent"}},
"layer":[
{"data":{"values":[{"x":1583.2,"y":2662.5},{"x":1582.86,"y":2660.1},{"x":1583.39,"y":2657.9},{"x":1583.48,"y":2656.2},{"x":1583.51,"y":2655.2},{"x":1583.64,"y":2655.1},{"x":1583.66,"y":2660.6},{"x":1584.04,"y":2663.0},{"x":1584.2,"y":2663.8},{"x":1584.23,"y":2662.8},{"x":1584.37,"y":2663.0},{"x":1584.24,"y":2658.9},{"x":1584.45,"y":2659.0},{"x":1584.43,"y":2656.1},{"x":1584.55,"y":2656.2},{"x":1582.84,"y":2650.2},{"x":1583.26,"y":2649.0},{"x":1583.42,"y":2650.9},{"x":1583.5,"y":2651.5},{"x":1583.57,"y":2651.2},{"x":1583.64,"y":2652.0},{"x":1583.72,"y":2651.3},{"x":1583.79,"y":2652.1},{"x":1583.86,"y":2651.7},{"x":1583.93,"y":2652.4},{"x":1584.0,"y":2652.0},{"x":1584.08,"y":2652.7},{"x":1584.15,"y":2652.2},{"x":1584.23,"y":2653.0},{"x":1584.3,"y":2652.5},{"x":1584.37,"y":2653.2},{"x":1584.45,"y":2652.7},{"x":1584.52,"y":2653.5},{"x":1584.59,"y":2653.0},{"x":1584.66,"y":2653.8},{"x":1584.74,"y":2653.2},{"x":1584.81,"y":2654.0},{"x":1584.88,"y":2653.5},{"x":1584.96,"y":2654.3},{"x":1585.03,"y":2653.8},{"x":1585.1,"y":2654.5},{"x":1585.18,"y":2655.1},{"x":1585.25,"y":2654.3},{"x":1585.32,"y":2655.3},{"x":1585.39,"y":2654.8},{"x":1585.47,"y":2655.8},{"x":1585.54,"y":2656.3},{"x":1585.61,"y":2655.6},{"x":1585.72,"y":2654.5},{"x":1585.8,"y":2656.9},{"x":1585.87,"y":2656.9},{"x":1585.91,"y":2656.6},{"x":1586.04,"y":2655.2},{"x":1585.76,"y":2655.3},{"x":1583.46,"y":2650.2},{"x":1583.68,"y":2650.7},{"x":1583.82,"y":2650.9},{"x":1584.04,"y":2651.3},{"x":1584.26,"y":2651.7},{"x":1584.48,"y":2652.1},{"x":1584.7,"y":2652.4},{"x":1584.92,"y":2652.7},{"x":1585.14,"y":2653.2},{"x":1585.36,"y":2653.9},{"x":1583.97,"y":2653.0},{"x":1584.19,"y":2653.5},{"x":1584.41,"y":2654.0},{"x":1584.63,"y":2654.3},{"x":1584.85,"y":2654.8},{"x":1585.07,"y":2655.2},{"x":1584.34,"y":2648.6},
{"x":1583.45,"y":2651.8},{"x":1583.55,"y":2650.5},{"x":1583.62,"y":2651.6},{"x":1583.7,"y":2650.4},{"x":1583.75,"y":2652.6},{"x":1583.9,"y":2651.2},{"x":1583.95,"y":2652.0},{"x":1584.02,"y":2652.8},{"x":1584.1,"y":2651.8},{"x":1584.12,"y":2653.2},{"x":1584.2,"y":2652.4},{"x":1584.28,"y":2653.4},{"x":1584.33,"y":2651.9},{"x":1584.4,"y":2652.6},{"x":1584.42,"y":2653.7},{"x":1584.5,"y":2652.9},{"x":1584.55,"y":2654.0},{"x":1584.6,"y":2652.5},{"x":1584.65,"y":2653.4},{"x":1584.7,"y":2654.4},{"x":1584.78,"y":2653.6},{"x":1584.83,"y":2652.9},{"x":1584.9,"y":2654.2},{"x":1584.95,"y":2653.3},{"x":1585.0,"y":2654.8},{"x":1585.05,"y":2653.6},{"x":1585.12,"y":2654.2},{"x":1585.2,"y":2654.8},{"x":1585.28,"y":2655.5},{"x":1585.35,"y":2654.5},{"x":1585.42,"y":2655.2},{"x":1585.5,"y":2655.3},{"x":1585.58,"y":2656.0},{"x":1585.65,"y":2656.5},{"x":1585.7,"y":2655.9},{"x":1584.6,"y":2655.2},{"x":1584.2,"y":2654.4},{"x":1583.8,"y":2653.2}]},
"mark":{"type":"point","shape":"circle","filled":false,"stroke":"#1a1a1a","strokeWidth":0.8,"size":40,"opacity":1},
"encoding":{"x":{"field":"x","type":"quantitative","scale":{"domain":[1582,1587],"nice":false,"zero":false},"axis":{"orient":"bottom","values":[1582,1584,1586],"format":"d","tickSize":-5,"labelPadding":10,"domain":true}},
"y":{"field":"y","type":"quantitative","scale":{"domain":[2640,2675],"nice":false,"zero":false},"axis":{"orient":"left","values":[2650,2660,2670],"format":"d","domain":true}}}},
{"data":{"values":[{"x":1584.34,"y":2661.8},{"x":1584.04,"y":2659.8},{"x":1583.66,"y":2659.6},{"x":1583.19,"y":2656.6},{"x":1582.86,"y":2649.1},{"x":1582.84,"y":2645.8},{"x":1582.84,"y":2645.5},{"x":1583.26,"y":2646.1},{"x":1584.9,"y":2646.0},{"x":1583.63,"y":2649.4},{"x":1583.41,"y":2648.1},{"x":1583.46,"y":2647.1},{"x":1583.53,"y":2647.6},{"x":1583.61,"y":2646.9},{"x":1583.68,"y":2647.8},{"x":1583.75,"y":2647.3},{"x":1583.82,"y":2648.1},{"x":1583.9,"y":2647.6},{"x":1583.97,"y":2648.4},{"x":1584.04,"y":2647.8},{"x":1584.12,"y":2648.9},{"x":1584.19,"y":2648.4},{"x":1584.26,"y":2649.1},{"x":1584.41,"y":2649.5},{"x":1584.48,"y":2649.0},{"x":1584.55,"y":2649.9},{"x":1584.63,"y":2649.4},{"x":1584.7,"y":2650.3},{"x":1584.77,"y":2649.8},{"x":1584.85,"y":2650.7},{"x":1584.92,"y":2650.2},{"x":1584.99,"y":2651.0},{"x":1585.07,"y":2650.5},{"x":1585.14,"y":2651.4},{"x":1585.21,"y":2650.9},{"x":1585.28,"y":2651.8},{"x":1585.36,"y":2651.3},{"x":1585.43,"y":2652.2},{"x":1585.5,"y":2651.7},{"x":1585.58,"y":2652.4},{"x":1585.69,"y":2651.7},{"x":1585.8,"y":2653.1},{"x":1585.83,"y":2652.7},{"x":1586.04,"y":2652.9},{"x":1583.57,"y":2646.5},{"x":1583.79,"y":2646.8},{"x":1584.01,"y":2647.3},{"x":1584.23,"y":2647.8},{"x":1584.45,"y":2648.1},{"x":1584.66,"y":2648.9},{"x":1584.88,"y":2649.4},{"x":1585.1,"y":2649.9},{"x":1585.32,"y":2650.7},{"x":1585.54,"y":2651.2},{"x":1583.72,"y":2648.4},{"x":1583.93,"y":2648.9},{"x":1584.15,"y":2649.4},{"x":1584.37,"y":2649.9},{"x":1584.59,"y":2650.4},{"x":1584.81,"y":2651.2},{"x":1585.03,"y":2651.7},{"x":1585.25,"y":2652.1},{"x":1585.47,"y":2652.5},
{"x":1583.5,"y":2646.6},{"x":1583.58,"y":2647.3},{"x":1583.65,"y":2646.4},{"x":1583.7,"y":2647.0},{"x":1583.78,"y":2647.6},{"x":1583.85,"y":2646.9},{"x":1583.88,"y":2648.3},{"x":1583.95,"y":2647.6},{"x":1584.0,"y":2648.7},{"x":1584.08,"y":2648.1},{"x":1584.1,"y":2647.0},{"x":1584.18,"y":2648.9},{"x":1584.22,"y":2647.5},{"x":1584.3,"y":2649.4},{"x":1584.32,"y":2648.0},{"x":1584.4,"y":2648.6},{"x":1584.45,"y":2649.6},{"x":1584.52,"y":2648.4},{"x":1584.58,"y":2649.2},{"x":1584.6,"y":2650.1},{"x":1584.68,"y":2649.6},{"x":1584.72,"y":2648.7},{"x":1584.8,"y":2650.4},{"x":1584.85,"y":2649.5},{"x":1584.9,"y":2650.9},{"x":1584.97,"y":2649.9},{"x":1585.02,"y":2651.2},{"x":1585.08,"y":2651.0},{"x":1585.15,"y":2650.4},{"x":1585.2,"y":2651.6},{"x":1585.3,"y":2651.2},{"x":1585.38,"y":2652.0},{"x":1585.45,"y":2651.5},{"x":1585.55,"y":2652.6},{"x":1585.62,"y":2652.0},{"x":1585.75,"y":2652.5}]},
"mark":{"type":"point","shape":"circle","filled":false,"stroke":"#1f1fdb","strokeWidth":0.8,"size":40,"opacity":1},
"encoding":{"x":{"field":"x","type":"quantitative","scale":{"domain":[1582,1587],"nice":false,"zero":false},"axis":null},
"y":{"field":"y","type":"quantitative","scale":{"domain":[2640,2675],"nice":false,"zero":false},"axis":{"orient":"right","values":[2650,2660,2670],"labels":false,"tickSize":-5,"domain":true}}}},
{"data":{"values":[{"x":1582.06,"x2":1586.85,"y":2642.7,"y2":2665.7}]},
"mark":{"type":"rect","filled":false,"color":"#ff2020","strokeWidth":1.3},
"encoding":{"x":{"field":"x","type":"quantitative","scale":{"domain":[1582,1587],"nice":false,"zero":false},"axis":null},"x2":{"field":"x2"},
"y":{"field":"y","type":"quantitative","scale":{"domain":[2640,2675],"nice":false,"zero":false},"axis":null},"y2":{"field":"y2"}}},
{"data":{"values":[{"x":1581.93,"y":2662.6}]},
"mark":{"type":"point","shape":"circle","filled":false,"stroke":"#1f1fdb","strokeWidth":3,"size":75,"opacity":1},
"encoding":{"x":{"field":"x","type":"quantitative","scale":{"domain":[1582,1587],"nice":false,"zero":false},"axis":null},
"y":{"field":"y","type":"quantitative","scale":{"domain":[2640,2675],"nice":false,"zero":false},"axis":null}}},
{"data":{"values":[{"x":1585.02,"y":2633.34,"t":"ω","r":"w","c":"k"},{"x":1585.4,"y":2632.1,"t":"G","r":"s","c":"k"},{"x":1585.63,"y":2633.34,"t":"(cm","r":"m","c":"k"},{"x":1586.56,"y":2634.58,"t":"-1","r":"s","c":"k"},{"x":1586.83,"y":2633.34,"t":")","r":"m","c":"k"}]},
"mark":{"type":"text","align":"left","baseline":"middle"},
"encoding":{"x":{"field":"x","type":"quantitative","scale":{"domain":[1582,1587],"nice":false,"zero":false},"axis":null},
"y":{"field":"y","type":"quantitative","scale":{"domain":[2640,2675],"nice":false,"zero":false},"axis":null},
"text":{"field":"t"},
"size":{"field":"r","type":"nominal","scale":{"type":"ordinal","domain":["m","w","s","l","t","T","U","B","b"],"range":[26,22,14,22,22,25,24,29,18]},"legend":null},
"color":{"field":"c","type":"nominal","scale":{"domain":["k","b","g","r"],"range":["#000000","#1f1fdb","#00b050","#ff0000"]},"legend":null}}}
]},
{"width":338,"height":226,
"resolve":{"axis":{"x":"independent","y":"independent"}},
"layer":[
{"data":{"values":[{"x":-13.33,"y":0.645},{"x":-12.44,"y":0.719},{"x":-9.67,"y":0.766},{"x":-8.49,"y":0.81},{"x":-7.56,"y":0.719},{"x":-6.23,"y":0.726},{"x":-6.02,"y":0.682},{"x":-5.98,"y":0.633},{"x":-9.97,"y":0.596},{"x":-9.94,"y":0.564},{"x":-9.67,"y":0.533},{"x":-10.9,"y":0.395},{"x":-5.46,"y":0.365},{"x":-5.46,"y":0.299},{"x":-5.04,"y":0.327},{"x":-3.02,"y":0.839},{"x":-2.83,"y":0.825},{"x":-3.1,"y":0.795},{"x":-2.96,"y":0.766},{"x":-2.88,"y":0.736},{"x":-3.05,"y":0.714},{"x":-2.96,"y":0.692},{"x":-3.42,"y":0.719},{"x":-2.09,"y":0.695},{"x":-1.32,"y":0.695},{"x":-2.34,"y":0.645},{"x":-1.02,"y":0.582},{"x":-2.57,"y":0.376},{"x":-2.5,"y":0.346},{"x":-0.5,"y":0.376},{"x":-3.64,"y":0.28},{"x":-4.94,"y":0.339},{"x":-4.79,"y":0.361},{"x":-4.64,"y":0.383},{"x":-4.5,"y":0.405},{"x":-4.35,"y":0.427},{"x":-4.2,"y":0.449},{"x":-4.05,"y":0.471},{"x":-3.91,"y":0.493},{"x":-3.76,"y":0.515},{"x":-3.61,"y":0.538},{"x":-3.46,"y":0.56},{"x":-3.31,"y":0.582},{"x":-3.24,"y":0.604},{"x":-3.39,"y":0.626},{"x":-3.54,"y":0.648},{"x":-3.68,"y":0.663},{"x":-4.64,"y":0.324},{"x":-4.35,"y":0.339},{"x":-4.05,"y":0.324},{"x":-3.76,"y":0.339},{"x":-3.46,"y":0.353},{"x":-4.27,"y":0.383},{"x":-3.98,"y":0.412},{"x":-3.76,"y":0.442},{"x":-3.54,"y":0.471},{"x":-4.2,"y":0.501},{"x":-3.91,"y":0.53},{"x":-3.68,"y":0.574},{"x":-3.46,"y":0.604},{"x":-3.24,"y":0.56},{"x":-3.17,"y":0.523},{"x":-4.5,"y":0.449},{"x":-4.13,"y":0.398},{"x":-3.83,"y":0.368},{"x":-4.42,"y":0.317},{"x":-3.91,"y":0.317},{"x":-4.79,"y":0.412},{"x":-3.61,"y":0.398},{"x":-3.31,"y":0.633},{"x":-3.17,"y":0.663},
{"x":-4.85,"y":0.32},{"x":-4.7,"y":0.35},{"x":-4.55,"y":0.36},{"x":-4.55,"y":0.33},{"x":-4.4,"y":0.38},{"x":-4.3,"y":0.36},{"x":-4.25,"y":0.41},{"x":-4.15,"y":0.43},{"x":-4.1,"y":0.36},{"x":-4.0,"y":0.45},{"x":-3.95,"y":0.39},{"x":-3.9,"y":0.47},{"x":-3.85,"y":0.42},{"x":-3.8,"y":0.5},{"x":-3.7,"y":0.47},{"x":-3.65,"y":0.52},{"x":-3.6,"y":0.49},{"x":-3.55,"y":0.55},{"x":-3.5,"y":0.51},{"x":-3.45,"y":0.58},{"x":-3.4,"y":0.55},{"x":-3.35,"y":0.6},{"x":-3.3,"y":0.54},{"x":-3.25,"y":0.62},{"x":-3.2,"y":0.6},{"x":-4.45,"y":0.35},{"x":-4.2,"y":0.34},{"x":-3.7,"y":0.36},{"x":-3.55,"y":0.38},{"x":-4.0,"y":0.5},{"x":-3.8,"y":0.56},{"x":-3.6,"y":0.6},{"x":-3.4,"y":0.5},{"x":-3.3,"y":0.46},{"x":-4.35,"y":0.46},{"x":-3.1,"y":0.6},{"x":-3.15,"y":0.69},{"x":-3.3,"y":0.68}]},
"mark":{"type":"point","shape":"circle","filled":false,"stroke":"#1a1a1a","strokeWidth":0.8,"size":30,"opacity":1},
"encoding":{"x":{"field":"x","type":"quantitative","scale":{"domain":[-15,0],"nice":false,"zero":false},"axis":{"orient":"bottom","values":[-15,-10,-5,0],"tickSize":-5,"labelPadding":10}},
"y":{"field":"y","type":"quantitative","scale":{"domain":[0,1],"nice":false,"zero":false},"axis":{"orient":"left","values":[0,0.5,1],"labelExpr":"datum.value==0.5?'':format(datum.value,'d')","labelOffset":{"condition":{"test":"datum.value==0","value":-4},"value":7}}}}},
{"data":{"values":[{"x":-13.33,"y":0.346},{"x":-12.44,"y":0.272},{"x":-10.9,"y":0.595},{"x":-9.97,"y":0.395},{"x":-9.94,"y":0.427},{"x":-9.67,"y":0.457},{"x":-9.67,"y":0.225},{"x":-8.49,"y":0.181},{"x":-7.56,"y":0.272},{"x":-6.23,"y":0.265},{"x":-6.02,"y":0.353},{"x":-6.02,"y":0.306},{"x":-5.49,"y":0.692},{"x":-5.46,"y":0.623},{"x":-5.04,"y":0.663},{"x":-3.64,"y":0.711},{"x":-2.87,"y":0.228},{"x":-3.02,"y":0.206},{"x":-3.17,"y":0.224},{"x":-2.94,"y":0.184},{"x":-2.8,"y":0.169},{"x":-3.02,"y":0.155},{"x":-2.94,"y":0.295},{"x":-3.05,"y":0.272},{"x":-2.57,"y":0.611},{"x":-2.46,"y":0.648},{"x":-2.09,"y":0.295},{"x":-1.32,"y":0.295},{"x":-1.05,"y":0.409},{"x":-0.53,"y":0.611},{"x":-3.42,"y":0.272},{"x":-4.94,"y":0.663},{"x":-4.72,"y":0.648},{"x":-4.5,"y":0.663},{"x":-4.27,"y":0.67},{"x":-4.05,"y":0.663},{"x":-3.76,"y":0.663},{"x":-3.54,"y":0.67},{"x":-4.87,"y":0.619},{"x":-4.64,"y":0.596},{"x":-4.42,"y":0.611},{"x":-4.2,"y":0.589},{"x":-3.98,"y":0.626},{"x":-4.82,"y":0.567},{"x":-4.57,"y":0.56},{"x":-4.35,"y":0.545},{"x":-4.13,"y":0.53},{"x":-4.94,"y":0.589},{"x":-4.79,"y":0.523},{"x":-4.87,"y":0.471},{"x":-4.72,"y":0.449},{"x":-4.5,"y":0.486},{"x":-4.05,"y":0.575},{"x":-3.83,"y":0.619},{"x":-3.68,"y":0.626},{"x":-3.46,"y":0.471},{"x":-3.31,"y":0.449},{"x":-3.39,"y":0.427},{"x":-3.17,"y":0.434},{"x":-3.24,"y":0.398},{"x":-3.1,"y":0.383},{"x":-3.31,"y":0.353},{"x":-3.46,"y":0.383},{"x":-3.61,"y":0.412},{"x":-3.39,"y":0.523},{"x":-5.01,"y":0.545},{"x":-5.09,"y":0.604},
{"x":-4.9,"y":0.64},{"x":-4.8,"y":0.66},{"x":-4.7,"y":0.62},{"x":-4.6,"y":0.64},{"x":-4.55,"y":0.6},{"x":-4.45,"y":0.63},{"x":-4.4,"y":0.58},{"x":-4.35,"y":0.64},{"x":-4.3,"y":0.56},{"x":-4.25,"y":0.6},{"x":-4.2,"y":0.55},{"x":-4.15,"y":0.62},{"x":-4.1,"y":0.52},{"x":-4.0,"y":0.55},{"x":-3.95,"y":0.5},{"x":-3.9,"y":0.58},{"x":-3.85,"y":0.47},{"x":-3.8,"y":0.52},{"x":-3.75,"y":0.45},{"x":-3.7,"y":0.49},{"x":-3.65,"y":0.43},{"x":-3.6,"y":0.46},{"x":-3.55,"y":0.41},{"x":-3.5,"y":0.44},{"x":-3.45,"y":0.4},{"x":-3.4,"y":0.37},{"x":-3.35,"y":0.4},{"x":-3.25,"y":0.36},{"x":-3.2,"y":0.41},{"x":-3.1,"y":0.35},{"x":-3.05,"y":0.33},{"x":-4.65,"y":0.55},{"x":-4.45,"y":0.5},{"x":-4.75,"y":0.6},{"x":-3.95,"y":0.66},{"x":-3.6,"y":0.67},{"x":-4.5,"y":0.67}]},
"mark":{"type":"point","shape":"circle","filled":false,"stroke":"#1f1fdb","strokeWidth":0.8,"size":30,"opacity":1},
"encoding":{"x":{"field":"x","type":"quantitative","scale":{"domain":[-15,0],"nice":false,"zero":false},"axis":{"orient":"top","values":[-10,-5],"labels":false,"tickSize":-5}},
"y":{"field":"y","type":"quantitative","scale":{"domain":[0,1],"nice":false,"zero":false},"axis":{"orient":"right","values":[0.5],"labels":false,"tickSize":-5}}}},
{"data":{"values":[{"x":-15.36,"x2":-0.3,"y":-0.283}]},
"mark":{"type":"rule","color":"#000000","strokeWidth":2.5},
"encoding":{"x":{"field":"x","type":"quantitative","scale":{"domain":[-15,0],"nice":false,"zero":false},"axis":null},"x2":{"field":"x2"},
"y":{"field":"y","type":"quantitative","scale":{"domain":[0,1],"nice":false,"zero":false},"axis":null}}},
{"data":{"values":[{"x":-0.22,"y":-0.283}]},
"mark":{"type":"point","shape":"M -1.3 -1 L 0 0 L -1.3 1","filled":false,"stroke":"#000000","strokeWidth":2.5,"size":110,"opacity":1},
"encoding":{"x":{"field":"x","type":"quantitative","scale":{"domain":[-15,0],"nice":false,"zero":false},"axis":null},
"y":{"field":"y","type":"quantitative","scale":{"domain":[0,1],"nice":false,"zero":false},"axis":null}}},
{"data":{"values":[{"x":-14.78,"y":0.084,"t":"(d)","r":"l","c":"k"},{"x":-11.01,"y":-0.19,"t":"ω","r":"w","c":"k"},{"x":-10.25,"y":-0.221,"t":"2D1","r":"s","c":"k"},{"x":-9.14,"y":-0.19,"t":"-ω","r":"w","c":"k"},{"x":-8.12,"y":-0.221,"t":"2D2","r":"s","c":"k"},{"x":-6.92,"y":-0.19,"t":"(cm","r":"m","c":"k"},{"x":-5.1,"y":-0.155,"t":"-1","r":"s","c":"k"},{"x":-4.35,"y":-0.19,"t":")","r":"m","c":"k"},{"x":-11.0,"y":-0.372,"t":"Doping increase","r":"t","c":"k"}]},
"mark":{"type":"text","align":"left","baseline":"middle"},
"encoding":{"x":{"field":"x","type":"quantitative","scale":{"domain":[-15,0],"nice":false,"zero":false},"axis":null},
"y":{"field":"y","type":"quantitative","scale":{"domain":[0,1],"nice":false,"zero":false},"axis":null},
"text":{"field":"t"},
"size":{"field":"r","type":"nominal","scale":{"type":"ordinal","domain":["m","w","s","l","t","T","U","B","b"],"range":[26,22,14,22,22,25,24,29,18]},"legend":null},
"color":{"field":"c","type":"nominal","scale":{"domain":["k","b","g","r"],"range":["#000000","#1f1fdb","#00b050","#ff0000"]},"legend":null}}},
{"data":{"values":[{"x":-2.88,"y":0.894,"t":"A","r":"B","c":"k"},{"x":-2.04,"y":0.854,"t":"2D2","r":"b","c":"k"},{"x":-2.48,"y":0.075,"t":"A","r":"B","c":"b"},{"x":-1.68,"y":0.044,"t":"2D1","r":"b","c":"b"}]},
"mark":{"type":"text","align":"left","baseline":"middle","fontWeight":"bold"},
"encoding":{"x":{"field":"x","type":"quantitative","scale":{"domain":[-15,0],"nice":false,"zero":false},"axis":null},
"y":{"field":"y","type":"quantitative","scale":{"domain":[0,1],"nice":false,"zero":false},"axis":null},
"text":{"field":"t"},
"size":{"field":"r","type":"nominal","scale":{"type":"ordinal","domain":["m","w","s","l","t","T","U","B","b"],"range":[26,22,14,22,22,25,24,29,18]},"legend":null},
"color":{"field":"c","type":"nominal","scale":{"domain":["k","b","g","r"],"range":["#000000","#1f1fdb","#00b050","#ff0000"]},"legend":null}}},
{"data":{"values":[{"x":-16.73,"y":0.438,"t":"λ=633nm","c":"r"}]},
"mark":{"type":"text","align":"center","baseline":"middle","angle":270,"fontSize":27},
"encoding":{"x":{"field":"x","type":"quantitative","scale":{"domain":[-15,0],"nice":false,"zero":false},"axis":null},
"y":{"field":"y","type":"quantitative","scale":{"domain":[0,1],"nice":false,"zero":false},"axis":null},
"text":{"field":"t"},
"color":{"field":"c","type":"nominal","scale":{"domain":["k","b","g","r"],"range":["#000000","#1f1fdb","#00b050","#ff0000"]},"legend":null}}}
]},
{"width":339,"height":226,
"resolve":{"axis":{"x":"independent","y":"independent"}},
"layer":[
{"data":{"values":[{"x":-12.42,"y":28.0},{"x":-13.26,"y":20.8},{"x":-10.87,"y":21.2},{"x":-9.66,"y":30.1},{"x":-9.91,"y":27.5},{"x":-9.66,"y":26.1},{"x":-9.94,"y":24.9},{"x":-8.44,"y":24.0},{"x":-7.48,"y":32.2},{"x":-6.15,"y":30.4},{"x":-5.99,"y":27.8},{"x":-4.78,"y":19.0},{"x":-3.54,"y":33.6},{"x":-0.47,"y":30.1},{"x":-2.02,"y":29.1},{"x":-2.42,"y":26.9},{"x":-2.49,"y":25.2},{"x":-2.46,"y":25.0},{"x":-0.99,"y":24.7},{"x":-1.25,"y":20.8},{"x":-5.41,"y":23.5},{"x":-5.38,"y":22.0},{"x":-5.04,"y":25.0},{"x":-4.82,"y":23.4},{"x":-4.68,"y":23.9},{"x":-4.6,"y":23.0},{"x":-4.45,"y":24.2},{"x":-4.38,"y":23.4},{"x":-4.31,"y":22.7},{"x":-4.23,"y":25.6},{"x":-4.16,"y":23.8},{"x":-4.09,"y":24.7},{"x":-4.01,"y":23.2},{"x":-3.94,"y":24.1},{"x":-3.86,"y":23.4},{"x":-3.79,"y":25.4},{"x":-3.72,"y":24.3},{"x":-3.64,"y":23.6},{"x":-3.57,"y":24.7},{"x":-3.5,"y":22.5},{"x":-3.42,"y":24.0},{"x":-3.35,"y":24.7},{"x":-3.27,"y":23.4},{"x":-3.2,"y":24.1},{"x":-3.13,"y":23.6},{"x":-3.05,"y":24.5},{"x":-2.98,"y":23.2},{"x":-2.91,"y":23.9},{"x":-2.83,"y":23.4},{"x":-2.76,"y":24.7},{"x":-4.53,"y":22.5},{"x":-4.23,"y":22.8},{"x":-3.94,"y":22.8},{"x":-3.72,"y":25.2},{"x":-4.09,"y":24.0},{"x":-3.79,"y":23.8},{"x":-3.5,"y":24.0},{"x":-4.31,"y":24.0},{"x":-4.6,"y":23.6},{"x":-3.27,"y":24.9},
{"x":-4.7,"y":23.2},{"x":-4.55,"y":24.0},{"x":-4.5,"y":23.4},{"x":-4.4,"y":22.8},{"x":-4.35,"y":24.5},{"x":-4.28,"y":23.6},{"x":-4.2,"y":24.2},{"x":-4.12,"y":23.1},{"x":-4.05,"y":23.5},{"x":-3.98,"y":24.5},{"x":-3.9,"y":23.0},{"x":-3.85,"y":24.0},{"x":-3.78,"y":22.9},{"x":-3.7,"y":23.6},{"x":-3.66,"y":24.8},{"x":-3.6,"y":23.2},{"x":-3.55,"y":24.2},{"x":-3.45,"y":23.5},{"x":-3.4,"y":22.9},{"x":-3.3,"y":24.3},{"x":-3.25,"y":23.0},{"x":-3.18,"y":24.7},{"x":-3.1,"y":23.8},{"x":-3.0,"y":24.0},{"x":-2.95,"y":22.9},{"x":-2.88,"y":24.4},{"x":-2.8,"y":23.8},{"x":-4.0,"y":25.1},{"x":-3.6,"y":25.3},{"x":-4.45,"y":25.0},{"x":-3.85,"y":22.4},{"x":-3.3,"y":22.7}]},
"mark":{"type":"point","shape":"circle","filled":false,"stroke":"#1a1a1a","strokeWidth":0.8,"size":30,"opacity":1},
"encoding":{"x":{"field":"x","type":"quantitative","scale":{"domain":[-15,0],"nice":false,"zero":false},"axis":{"orient":"bottom","values":[-15,-10,-5,0],"tickSize":-5,"labelPadding":10}},
"y":{"field":"y","type":"quantitative","scale":{"domain":[10,35],"nice":false,"zero":false},"axis":{"orient":"left","values":[10,15,20,25,30]}}}},
{"data":{"values":[{"x":-12.42,"y":30.8},{"x":-13.26,"y":23.7},{"x":-10.87,"y":16.6},{"x":-9.66,"y":19.5},{"x":-9.66,"y":17.3},{"x":-9.91,"y":16.2},{"x":-9.94,"y":15.8},{"x":-8.44,"y":22.1},{"x":-7.48,"y":13.9},{"x":-6.15,"y":20.0},{"x":-5.96,"y":24.4},{"x":-5.99,"y":12.5},{"x":-3.54,"y":19.9},{"x":-2.42,"y":17.6},{"x":-2.49,"y":15.3},{"x":-2.02,"y":15.3},{"x":-2.49,"y":12.6},{"x":-0.47,"y":16.0},{"x":-5.41,"y":15.5},{"x":-5.37,"y":14.7},{"x":-5.04,"y":15.6},{"x":-4.82,"y":14.0},{"x":-4.75,"y":15.0},{"x":-4.6,"y":14.4},{"x":-4.45,"y":15.1},{"x":-4.31,"y":12.8},{"x":-4.23,"y":14.4},{"x":-4.16,"y":16.0},{"x":-4.09,"y":14.0},{"x":-4.01,"y":14.8},{"x":-3.94,"y":13.7},{"x":-3.86,"y":14.4},{"x":-3.79,"y":13.3},{"x":-3.72,"y":14.0},{"x":-3.64,"y":15.5},{"x":-3.57,"y":12.9},{"x":-3.5,"y":13.7},{"x":-3.42,"y":14.8},{"x":-3.42,"y":11.7},{"x":-3.35,"y":13.1},{"x":-3.27,"y":12.6},{"x":-3.2,"y":13.9},{"x":-3.13,"y":12.2},{"x":-3.05,"y":13.3},{"x":-2.98,"y":11.5},{"x":-2.91,"y":12.0},{"x":-2.83,"y":11.1},{"x":-2.76,"y":10.7},{"x":-2.91,"y":10.3},{"x":-3.05,"y":10.7},{"x":-3.35,"y":15.5},{"x":-3.2,"y":14.6},{"x":-4.38,"y":14.0},{"x":-4.53,"y":13.7},{"x":-4.16,"y":13.5},{"x":-3.86,"y":13.1},{"x":-3.64,"y":12.6},{"x":-3.35,"y":12.2},{"x":-4.75,"y":14.2},{"x":-4.31,"y":15.0},{"x":-3.94,"y":15.2},{"x":-3.72,"y":14.8},{"x":-3.5,"y":14.4},
{"x":-5.2,"y":15.2},{"x":-5.0,"y":14.9},{"x":-4.9,"y":14.5},{"x":-4.85,"y":15.4},{"x":-4.7,"y":14.7},{"x":-4.65,"y":13.9},{"x":-4.55,"y":14.8},{"x":-4.5,"y":14.2},{"x":-4.4,"y":14.6},{"x":-4.35,"y":13.5},{"x":-4.25,"y":14.1},{"x":-4.2,"y":14.8},{"x":-4.12,"y":13.8},{"x":-4.05,"y":14.5},{"x":-4.0,"y":13.4},{"x":-3.95,"y":14.1},{"x":-3.9,"y":13.0},{"x":-3.85,"y":13.8},{"x":-3.8,"y":14.6},{"x":-3.75,"y":13.6},{"x":-3.68,"y":12.9},{"x":-3.62,"y":13.6},{"x":-3.55,"y":13.3},{"x":-3.48,"y":12.5},{"x":-3.45,"y":13.9},{"x":-3.38,"y":13.4},{"x":-3.3,"y":12.9},{"x":-3.25,"y":13.5},{"x":-3.15,"y":12.8},{"x":-3.1,"y":13.6},{"x":-3.0,"y":12.4},{"x":-2.95,"y":12.9},{"x":-3.2,"y":11.9},{"x":-3.1,"y":11.4},{"x":-2.88,"y":11.6},{"x":-2.85,"y":12.4},{"x":-4.1,"y":15.4},{"x":-4.5,"y":15.6},{"x":-3.6,"y":14.3},{"x":-4.6,"y":13.2}]},
"mark":{"type":"point","shape":"circle","filled":false,"stroke":"#1f1fdb","strokeWidth":0.8,"size":30,"opacity":1},
"encoding":{"x":{"field":"x","type":"quantitative","scale":{"domain":[-15,0],"nice":false,"zero":false},"axis":{"orient":"top","values":[-10,-5],"labels":false,"tickSize":-5}},
"y":{"field":"y","type":"quantitative","scale":{"domain":[10,35],"nice":false,"zero":false},"axis":{"orient":"right","values":[15,20,25,30],"labels":false,"tickSize":-5}}}},
{"data":{"values":[{"x":-15.53,"x2":-0.4,"y":2.48}]},
"mark":{"type":"rule","color":"#000000","strokeWidth":2.5},
"encoding":{"x":{"field":"x","type":"quantitative","scale":{"domain":[-15,0],"nice":false,"zero":false},"axis":null},"x2":{"field":"x2"},
"y":{"field":"y","type":"quantitative","scale":{"domain":[10,35],"nice":false,"zero":false},"axis":null}}},
{"data":{"values":[{"x":-0.31,"y":2.48}]},
"mark":{"type":"point","shape":"M -1.3 -1 L 0 0 L -1.3 1","filled":false,"stroke":"#000000","strokeWidth":2.5,"size":110,"opacity":1},
"encoding":{"x":{"field":"x","type":"quantitative","scale":{"domain":[-15,0],"nice":false,"zero":false},"axis":null},
"y":{"field":"y","type":"quantitative","scale":{"domain":[10,35],"nice":false,"zero":false},"axis":null}}},
{"data":{"values":[{"x":-14.65,"y":12.1,"t":"(e)","r":"l","c":"k"},{"x":-11.11,"y":5.13,"t":"ω","r":"w","c":"k"},{"x":-10.35,"y":4.36,"t":"2D1","r":"s","c":"k"},{"x":-9.25,"y":5.13,"t":"-ω","r":"w","c":"k"},{"x":-8.23,"y":4.36,"t":"2D2","r":"s","c":"k"},{"x":-7.04,"y":5.13,"t":"(cm","r":"m","c":"k"},{"x":-5.22,"y":6.02,"t":"-1","r":"s","c":"k"},{"x":-4.42,"y":5.13,"t":")","r":"m","c":"k"},{"x":-11.11,"y":0.49,"t":"Doping increase","r":"t","c":"k"}]},
"mark":{"type":"text","align":"left","baseline":"middle"},
"encoding":{"x":{"field":"x","type":"quantitative","scale":{"domain":[-15,0],"nice":false,"zero":false},"axis":null},
"y":{"field":"y","type":"quantitative","scale":{"domain":[10,35],"nice":false,"zero":false},"axis":null},
"text":{"field":"t"},
"size":{"field":"r","type":"nominal","scale":{"type":"ordinal","domain":["m","w","s","l","t","T","U","B","b"],"range":[26,22,14,22,22,25,24,29,18]},"legend":null},
"color":{"field":"c","type":"nominal","scale":{"domain":["k","b","g","r"],"range":["#000000","#1f1fdb","#00b050","#ff0000"]},"legend":null}}},
{"data":{"values":[{"x":-1.86,"y":26.81,"t":"FWHM","r":"B","c":"k"},{"x":2.3,"y":25.71,"t":"2D2","r":"b","c":"k"},{"x":-1.95,"y":12.99,"t":"FWHM","r":"B","c":"b"},{"x":2.25,"y":11.88,"t":"2D1","r":"b","c":"b"}]},
"mark":{"type":"text","align":"left","baseline":"middle","fontWeight":"bold"},
"encoding":{"x":{"field":"x","type":"quantitative","scale":{"domain":[-15,0],"nice":false,"zero":false},"axis":null},
"y":{"field":"y","type":"quantitative","scale":{"domain":[10,35],"nice":false,"zero":false},"axis":null},
"text":{"field":"t"},
"size":{"field":"r","type":"nominal","scale":{"type":"ordinal","domain":["m","w","s","l","t","T","U","B","b"],"range":[26,22,14,22,22,25,24,29,18]},"legend":null},
"color":{"field":"c","type":"nominal","scale":{"domain":["k","b","g","r"],"range":["#000000","#1f1fdb","#00b050","#ff0000"]},"legend":null}}}
]}
]
}
